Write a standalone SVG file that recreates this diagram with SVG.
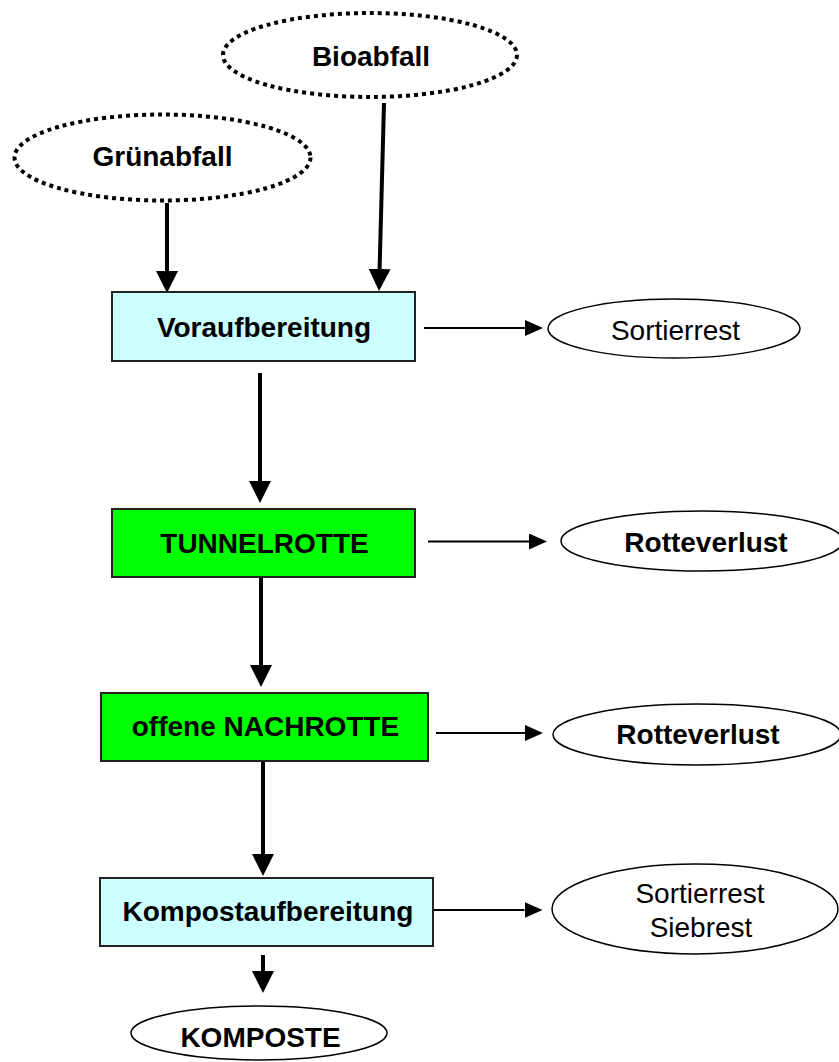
<svg xmlns="http://www.w3.org/2000/svg" width="839" height="1062" viewBox="0 0 839 1062">
<style>
text{font-family:"Liberation Sans",Arial,sans-serif;font-size:28px;text-anchor:middle;fill:#000}
.b{font-weight:bold}
.src{fill:#fff;stroke:#000;stroke-width:4;stroke-dasharray:4 4}
.out{fill:#fff;stroke:#000;stroke-width:1.5}
.cy{fill:#CCFFFF;stroke:#222;stroke-width:2}
.gr{fill:#00FF00;stroke:#222;stroke-width:2}
.thick{stroke:#000;stroke-width:4;fill:none}
.thin{stroke:#000;stroke-width:2;fill:none}
</style>
<defs>
<marker id="big" markerUnits="userSpaceOnUse" markerWidth="22" markerHeight="22" refX="0" refY="11" orient="auto"><path d="M0,0 L22,11 L0,22 z" fill="#000"/></marker>
<marker id="small" markerUnits="userSpaceOnUse" markerWidth="18" markerHeight="16" refX="0" refY="8" orient="auto"><path d="M0,0 L18,8 L0,16 z" fill="#000"/></marker>
</defs>
<rect width="839" height="1062" fill="#fff"/>
<g id="connectors">
<line class="thick" x1="167" y1="203" x2="167" y2="271" marker-end="url(#big)"/>
<line class="thick" x1="384" y1="103" x2="379.6" y2="269" marker-end="url(#big)"/>
<line class="thick" x1="260" y1="373" x2="260" y2="481" marker-end="url(#big)"/>
<line class="thick" x1="261" y1="577" x2="261" y2="665" marker-end="url(#big)"/>
<line class="thick" x1="263" y1="761" x2="263" y2="854" marker-end="url(#big)"/>
<line class="thick" x1="263" y1="955" x2="263" y2="971" marker-end="url(#big)"/>
<line class="thin" x1="424" y1="328" x2="525" y2="328" marker-end="url(#small)"/>
<line class="thin" x1="428" y1="541.5" x2="529" y2="541.5" marker-end="url(#small)"/>
<line class="thin" x1="436" y1="733" x2="525" y2="733" marker-end="url(#small)"/>
<line class="thin" x1="433" y1="910" x2="524.5" y2="910" marker-end="url(#small)"/>
</g>
<g id="bioabfall">
<ellipse class="src" cx="370" cy="55" rx="147" ry="42"/>
<text class="b" x="371" y="66">Bioabfall</text>
</g>
<g id="gruenabfall">
<ellipse class="src" cx="162.5" cy="157.5" rx="148" ry="43"/>
<text class="b" x="162.5" y="166">Grünabfall</text>
</g>
<g id="voraufbereitung">
<rect class="cy" x="112" y="292" width="303" height="69"/>
<text class="b" x="264" y="337">Voraufbereitung</text>
</g>
<g id="sortierrest1">
<ellipse class="out" cx="674" cy="328.5" rx="126" ry="29.5"/>
<text x="675.5" y="340">Sortierrest</text>
</g>
<g id="tunnelrotte">
<rect class="gr" x="112" y="509" width="303" height="68"/>
<text class="b" x="264.5" y="553">TUNNELROTTE</text>
</g>
<g id="rotteverlust1">
<ellipse class="out" cx="702" cy="541" rx="141" ry="30"/>
<text class="b" x="706" y="552">Rotteverlust</text>
</g>
<g id="nachrotte">
<rect class="gr" x="101" y="693" width="327" height="68"/>
<text class="b" x="265.5" y="736">offene NACHROTTE</text>
</g>
<g id="rotteverlust2">
<ellipse class="out" cx="697" cy="734.5" rx="144" ry="30.5"/>
<text class="b" x="698" y="744">Rotteverlust</text>
</g>
<g id="kompostaufbereitung">
<rect class="cy" x="100" y="878" width="333" height="68"/>
<text class="b" x="268" y="921">Kompostaufbereitung</text>
</g>
<g id="sortierrest-siebrest">
<ellipse class="out" cx="695" cy="909" rx="143" ry="45"/>
<text x="700" y="903">Sortierrest</text>
<text x="701" y="937">Siebrest</text>
</g>
<g id="komposte">
<ellipse class="out" cx="259" cy="1033" rx="128" ry="27"/>
<text class="b" x="260.5" y="1046.5">KOMPOSTE</text>
</g>
</svg>
